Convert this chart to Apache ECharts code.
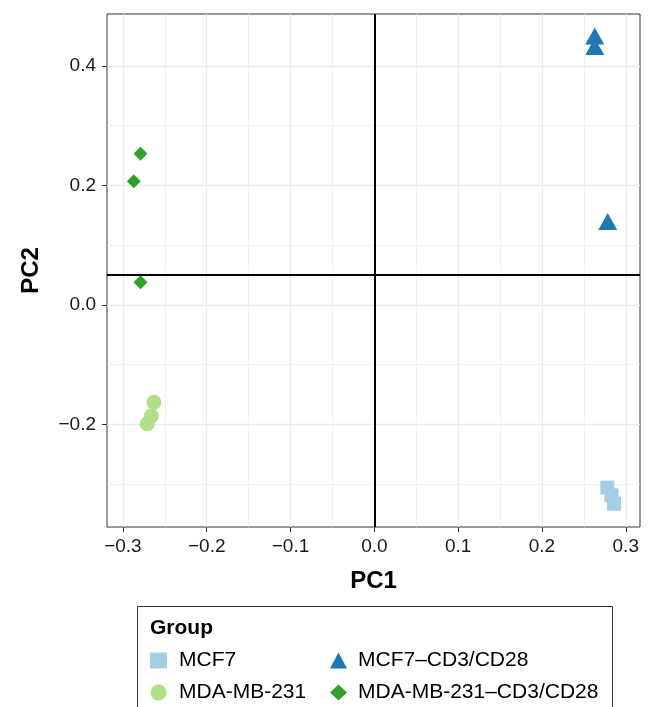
<!DOCTYPE html>
<html>
<head>
<meta charset="utf-8">
<script src="https://cdn.jsdelivr.net/npm/echarts@6.0.0/dist/echarts.min.js"></script>
<style>
  html, body { margin: 0; padding: 0; background: #fff; }
  #chart { width: 650px; height: 707px; }
</style>
</head>
<body>
<div id="chart"></div>
<script>
// ---- data ----
const groupNames = ['MCF7', 'MCF7\u2013CD3/CD28', 'MDA-MB-231', 'MDA-MB-231\u2013CD3/CD28'];
const groupColors = ['#A6CEE3', '#1F78B4', '#B2DF8A', '#33A02C'];

const mcf7PC1 = [0.278, 0.283, 0.286];
const mcf7PC2 = [-0.306, -0.319, -0.333];

const mcf7CdPC1 = [0.263, 0.263, 0.2785];
const mcf7CdPC2 = [0.450, 0.4325, 0.1395];

const mdaPC1 = [-0.263, -0.266, -0.271];
const mdaPC2 = [-0.163, -0.186, -0.199];

const mdaCdPC1 = [-0.279, -0.287, -0.279];
const mdaCdPC2 = [0.253, 0.207, 0.038];

const xTicks = [-0.3, -0.2, -0.1, 0.0, 0.1, 0.2, 0.3];
const yTicks = [-0.2, 0.0, 0.2, 0.4];
const xMinorGrid = [-0.25, -0.15, -0.05, 0.05, 0.15, 0.25];
const yMinorGrid = [-0.3, -0.1, 0.1, 0.3];
const refLineX = 0;
const refLineY = 0.05;

// ---- helpers ----
const zip = (xs, ys) => xs.map((x, i) => [x, ys[i]]);
const fmt = v => Number(v).toFixed(1).replace('-', '\u2212');

const FONT = '"Liberation Sans", Arial, Helvetica, sans-serif';

const chart = echarts.init(document.getElementById('chart'), null, { renderer: 'canvas' });

const gridLines = [].concat(
  xTicks.map(v => ({ xAxis: v, lineStyle: { color: '#EBEBEB', width: 1.3, type: 'solid' } })),
  xMinorGrid.map(v => ({ xAxis: v, lineStyle: { color: '#EDEDED', width: 0.7, type: 'solid' } })),
  yTicks.map(v => ({ yAxis: v, lineStyle: { color: '#EBEBEB', width: 1.3, type: 'solid' } })),
  yMinorGrid.map(v => ({ yAxis: v, lineStyle: { color: '#EDEDED', width: 0.7, type: 'solid' } }))
);

const legendBase = {
  orient: 'vertical',
  top: 650,
  padding: 0,
  itemWidth: 17, itemHeight: 16, itemGap: 11,
  selectedMode: false
};

const option = {
  backgroundColor: '#ffffff',
  animation: false,
  textStyle: { fontFamily: FONT },
  grid: {
    left: 107, right: 10, top: 14, bottom: 180,
    show: true, borderColor: '#333333', borderWidth: 1, backgroundColor: 'transparent'
  },
  xAxis: {
    type: 'value',
    min: -0.319, max: 0.317,
    name: 'PC1',
    nameLocation: 'middle',
    nameGap: 42,
    nameTextStyle: { fontSize: 24, fontWeight: 'bold', color: '#000', fontFamily: FONT },
    axisLine: { show: false, onZero: false },
    splitLine: { show: false },
    axisTick: { show: true, inside: false, length: 5, lineStyle: { color: '#333333', width: 1 }, customValues: xTicks },
    axisLabel: { customValues: xTicks, formatter: fmt, fontSize: 19, color: '#1a1a1a', margin: 10, fontFamily: FONT }
  },
  yAxis: {
    type: 'value',
    min: -0.372, max: 0.487,
    name: 'PC2',
    nameLocation: 'middle',
    nameGap: 64,
    nameRotate: 90,
    nameTextStyle: { fontSize: 24, fontWeight: 'bold', color: '#000', fontFamily: FONT },
    axisLine: { show: false, onZero: false },
    splitLine: { show: false },
    axisTick: { show: true, inside: false, length: 5, lineStyle: { color: '#333333', width: 1 }, customValues: yTicks },
    axisLabel: { customValues: yTicks, formatter: fmt, fontSize: 19, color: '#1a1a1a', margin: 11, fontFamily: FONT }
  },
  legend: [
    Object.assign({}, legendBase, {
      left: 150,
      data: [groupNames[0], groupNames[2]],
      textStyle: { fontSize: 21, color: '#000', fontFamily: FONT, padding: [0, 0, 0, 7], lineHeight: 21 }
    }),
    Object.assign({}, legendBase, {
      left: 330,
      data: [groupNames[1], groupNames[3]],
      textStyle: { fontSize: 21, color: '#000', fontFamily: FONT, padding: [0, 0, 0, 6], lineHeight: 21 }
    })
  ],
  graphic: [
    {
      type: 'rect',
      shape: { x: 137.5, y: 606.5, width: 475, height: 110 },
      style: { fill: 'none', stroke: '#333333', lineWidth: 1 },
      silent: true
    },
    {
      type: 'text',
      left: 150, top: 618,
      style: { text: 'Group', font: 'bold 21px ' + FONT, fill: '#000' },
      silent: true
    }
  ],
  series: [
    {
      type: 'scatter', name: '_grid', data: [], z: 1, silent: true,
      markLine: { silent: true, symbol: 'none', label: { show: false }, animation: false, data: gridLines }
    },
    {
      type: 'scatter', name: '_ref', data: [], z: 2, silent: true,
      markLine: {
        silent: true, symbol: 'none', label: { show: false }, animation: false,
        lineStyle: { color: '#000000', width: 2, type: 'solid' },
        data: [{ xAxis: refLineX }, { yAxis: refLineY }]
      }
    },
    {
      type: 'scatter', name: groupNames[0], data: zip(mcf7PC1, mcf7PC2),
      symbol: 'rect', symbolSize: 14, itemStyle: { color: groupColors[0], opacity: 1 }, z: 5
    },
    {
      type: 'scatter', name: groupNames[1], data: zip(mcf7CdPC1, mcf7CdPC2),
      symbol: 'triangle', symbolSize: [19, 17], itemStyle: { color: groupColors[1], opacity: 1 }, z: 5
    },
    {
      type: 'scatter', name: groupNames[2], data: zip(mdaPC1, mdaPC2),
      symbol: 'circle', symbolSize: 15, itemStyle: { color: groupColors[2], opacity: 1 }, z: 5
    },
    {
      type: 'scatter', name: groupNames[3], data: zip(mdaCdPC1, mdaCdPC2),
      symbol: 'diamond', symbolSize: [14, 14], itemStyle: { color: groupColors[3], opacity: 1 }, z: 5
    }
  ]
};

chart.setOption(option);
</script>
</body>
</html>
